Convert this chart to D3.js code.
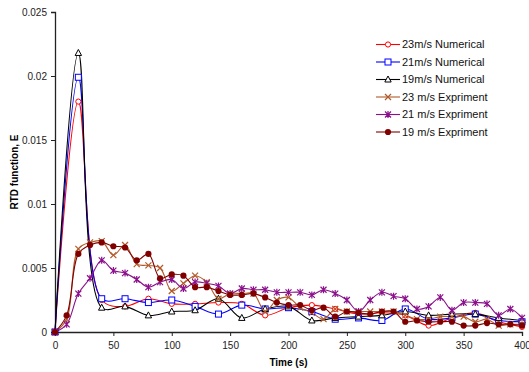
<!DOCTYPE html>
<html>
<head>
<meta charset="utf-8">
<script src="https://cdn.jsdelivr.net/npm/d3@7"></script>
<style>
  body { margin: 0; background: #fff; }
  svg { font-family: Arial, "Liberation Sans", sans-serif; }
</style>
</head>
<body>
<div id="container"></div>
<script>
/* CONSTANTS AND GLOBALS */
const width = 529,
  height = 372,
  margin = { top: 12, bottom: 40, left: 55, right: 7 };

// time axis for numerical runs (every 20 s) and experiments (every 10 s)
const timeNum = [0, 20, 40, 60, 80, 100, 120, 140, 160, 180, 200, 220, 240, 260, 280, 300, 320, 340, 360, 380, 400];
const timeExp = [0, 10, 20, 30, 40, 50, 60, 70, 80, 90, 100, 110, 120, 130, 140, 150, 160, 170, 180, 190, 200,
  210, 220, 230, 240, 250, 260, 270, 280, 290, 300, 310, 320, 330, 340, 350, 360, 370, 380, 390, 400];

const num23 = [0, 0.0180, 0.0025, 0.0020, 0.0026, 0.0022, 0.0022, 0.0023, 0.0022, 0.0013, 0.0019,
  0.0021, 0.0018, 0.0014, 0.0015, 0.0013, 0.0005, 0.0011, 0.0015, 0.0008, 0.0004];
const num21 = [0, 0.0199, 0.0026, 0.0026, 0.0023, 0.0025, 0.0020, 0.0014, 0.0021, 0.0018, 0.0019,
  0.0016, 0.0010, 0.0011, 0.0009, 0.0018, 0.0010, 0.0011, 0.0014, 0.0009, 0.0008];
const num19 = [0, 0.0218, 0.0019, 0.0020, 0.0013, 0.0016, 0.0017, 0.0026, 0.0011, 0.0018, 0.0020,
  0.0009, 0.0011, 0.0012, 0.0013, 0.0016, 0.0013, 0.0014, 0.0014, 0.0011, 0.0009];

const exp23 = [0, 0.0010, 0.0065, 0.0070, 0.0071, 0.0060, 0.0068, 0.0053, 0.0052, 0.0050, 0.0032,
  0.0038, 0.0044, 0.0039, 0.0026, 0.0030, 0.0030, 0.0030, 0.0016, 0.0025, 0.0027,
  0.0019, 0.0015, 0.0010, 0.0018, 0.0016, 0.0016, 0.0016, 0.0016, 0.0016, 0.0013,
  0.0010, 0.0010, 0.0012, 0.0012, 0.0012, 0.0008, 0.0010, 0.0005, 0.0006, 0.0006];
const exp21 = [0, 0.0006, 0.0030, 0.0042, 0.0056, 0.0048, 0.0046, 0.0041, 0.0035, 0.0039, 0.0041,
  0.0034, 0.0039, 0.0038, 0.0036, 0.0030, 0.0034, 0.0033, 0.0033, 0.0031, 0.0031,
  0.0031, 0.0029, 0.0033, 0.0030, 0.0025, 0.0016, 0.0025, 0.0031, 0.0028, 0.0026,
  0.0018, 0.0020, 0.0027, 0.0017, 0.0023, 0.0023, 0.0022, 0.0013, 0.0018, 0.0011];
const exp19 = [0, 0.0013, 0.0061, 0.0068, 0.0070, 0.0067, 0.0066, 0.0056, 0.0061, 0.0042, 0.0045,
  0.0044, 0.0035, 0.0035, 0.0032, 0.0029, 0.0029, 0.0030, 0.0027, 0.0023, 0.0021,
  0.0021, 0.0017, 0.0019, 0.0012, 0.0016, 0.0015, 0.0014, 0.0016, 0.0016, 0.0008,
  0.0009, 0.0008, 0.0008, 0.0008, 0.0005, 0.0005, 0.0007, 0.0006, 0.0006, 0.0005];

const seriesNames = ["23m/s Numerical", "21m/s Numerical", "19m/s Numerical",
  "23 m/s Expriment", "21 m/s Expriment", "19 m/s Expriment"];
const seriesColors = ["#ff0000", "#0000ff", "#000000", "#b05a2a", "#8b108b", "#800000"];
const seriesMarkers = ["circle", "square", "triangle", "cross", "star", "dot"];

const xTicks = [0, 50, 100, 150, 200, 250, 300, 350, 400];
const yTicks = [0, 0.005, 0.01, 0.015, 0.02, 0.025];

// build the table used for drawing
const series = [
  { name: seriesNames[0], x: timeNum, y: num23 },
  { name: seriesNames[1], x: timeNum, y: num21 },
  { name: seriesNames[2], x: timeNum, y: num19 },
  { name: seriesNames[3], x: timeExp, y: exp23 },
  { name: seriesNames[4], x: timeExp, y: exp21 },
  { name: seriesNames[5], x: timeExp, y: exp19 }
].map((s, i) => ({
  ...s,
  color: seriesColors[i],
  marker: seriesMarkers[i],
  points: s.x.map((t, j) => ({ t: t, v: s.y[j] }))
}));

const svg = d3.select("#container")
  .append("svg")
  .attr("width", width)
  .attr("height", height);

// + SCALES
const xScale = d3.scaleLinear()
  .domain([0, 400])
  .range([margin.left, width - margin.right]);

const yScale = d3.scaleLinear()
  .domain([0, 0.025])
  .range([height - margin.bottom, margin.top]);

// + AXES
const xAxis = d3.axisBottom(xScale)
  .tickValues(xTicks)
  .tickSize(4)
  .tickFormat(d3.format("d"));

const yAxis = d3.axisLeft(yScale)
  .tickValues(yTicks)
  .tickSize(4)
  .tickFormat(d => d === 0 ? "0" : String(+d.toFixed(3)));

const gx = svg.append("g")
  .attr("transform", `translate(0,${height - margin.bottom})`)
  .call(xAxis);

const gy = svg.append("g")
  .attr("transform", `translate(${margin.left},0)`)
  .call(yAxis);

[gx, gy].forEach(g => {
  g.select(".domain").attr("stroke", "#222").attr("stroke-width", 1.3);
  g.selectAll(".tick line").attr("stroke", "#222");
  g.selectAll("text")
    .attr("fill", "#222")
    .style("font-size", "10px");
});
gx.selectAll("text").attr("dy", "0.95em");
gy.selectAll("text").attr("dx", "-1");

// axis titles
svg.append("text")
  .attr("x", (margin.left + width - margin.right) / 2)
  .attr("y", 366)
  .attr("text-anchor", "middle")
  .style("font-size", "10px")
  .style("font-weight", "bold")
  .text("Time (s)");

svg.append("text")
  .attr("transform", `translate(18,${(margin.top + height - margin.bottom) / 2}) rotate(-90)`)
  .attr("text-anchor", "middle")
  .style("font-size", "10px")
  .style("font-weight", "bold")
  .text("RTD function, E");

// + LINES (smoothed, like the spreadsheet chart)
const line = d3.line()
  .x(d => xScale(d.t))
  .y(d => yScale(d.v))
  .curve(d3.curveCatmullRom.alpha(0.5));

svg.append("g")
  .selectAll("path")
  .data(series)
  .join("path")
  .attr("d", d => line(d.points))
  .attr("fill", "none")
  .attr("stroke", d => d.color)
  .attr("stroke-width", 1.1);

// marker drawing
function drawMarker(g, type, color) {
  if (type === "circle") {
    g.append("circle").attr("r", 2.6).attr("fill", "#fff").attr("stroke", color).attr("stroke-width", 1);
  } else if (type === "square") {
    g.append("rect").attr("x", -3).attr("y", -3).attr("width", 6).attr("height", 6)
      .attr("fill", "#fff").attr("stroke", color).attr("stroke-width", 1);
  } else if (type === "triangle") {
    g.append("path").attr("d", "M0,-3.5L3.2,2.5L-3.2,2.5Z")
      .attr("fill", "#fff").attr("stroke", color).attr("stroke-width", 1);
  } else if (type === "cross") {
    g.append("path").attr("d", "M-3,-3L3,3M-3,3L3,-3")
      .attr("stroke", color).attr("stroke-width", 1.2);
  } else if (type === "star") {
    g.append("path").attr("d", "M-3,-3L3,3M-3,3L3,-3M0,-3.5L0,3.5")
      .attr("stroke", color).attr("stroke-width", 1.2);
  } else {
    g.append("circle").attr("r", 3.1).attr("fill", color);
  }
}

// + MARKERS
series.forEach(s => {
  svg.append("g")
    .selectAll("g")
    .data(s.points)
    .join("g")
    .attr("transform", d => `translate(${xScale(d.t)},${yScale(d.v)})`)
    .each(function () { drawMarker(d3.select(this), s.marker, s.color); });
});

// + LEGEND
const legend = svg.append("g")
  .attr("transform", "translate(376,44.5)");

const item = legend.selectAll("g")
  .data(series)
  .join("g")
  .attr("transform", (d, i) => `translate(0,${i * 17.5})`);

item.append("line")
  .attr("x1", 0).attr("x2", 24)
  .attr("stroke", d => d.color)
  .attr("stroke-width", 1.1);

item.each(function (d) {
  const g = d3.select(this).append("g").attr("transform", "translate(12,0)");
  drawMarker(g, d.marker, d.color);
});

item.append("text")
  .attr("x", 26)
  .attr("dy", "0.35em")
  .style("font-size", "11px")
  .attr("fill", "#111")
  .text(d => d.name);
</script>
</body>
</html>
